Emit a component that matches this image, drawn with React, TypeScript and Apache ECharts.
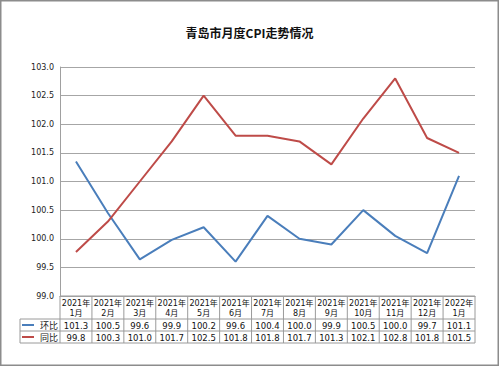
import React, { useEffect, useRef } from "react";
import * as echarts from "echarts";

const months = ["2021年\n1月", "2021年\n2月", "2021年\n3月", "2021年\n4月", "2021年\n5月", "2021年\n6月", "2021年\n7月", "2021年\n8月", "2021年\n9月", "2021年\n10月", "2021年\n11月", "2021年\n12月", "2022年\n1月"];
const seriesNames = ["环比", "同比"];
// values as plotted
const momValues = [101.35, 100.45, 99.64, 99.98, 100.2, 99.6, 100.4, 100.0, 99.9, 100.5, 100.05, 99.75, 101.1];
const yoyValues = [99.77, 100.3, 101.0, 101.7, 102.5, 101.8, 101.8, 101.7, 101.3, 102.1, 102.8, 101.76, 101.5];
// values as printed in the data table
const momTable = ["101.3", "100.5", "99.6", "99.9", "100.2", "99.6", "100.4", "100.0", "99.9", "100.5", "100.0", "99.7", "101.1"];
const yoyTable = ["99.8", "100.3", "101.0", "101.7", "102.5", "101.8", "101.8", "101.7", "101.3", "102.1", "102.8", "101.8", "101.5"];
const colors = ["#4a7ebb", "#be4b48"];

const FONT = "'DejaVu Sans', 'Noto Sans CJK SC', sans-serif";

export default function App() {
  const ref = useRef<HTMLDivElement>(null);
  useEffect(() => {
    if (!ref.current) return;
    const chart = echarts.init(ref.current, null, { renderer: "svg" });
    const gridLeft = 60, gridRight = 24, gridTop = 67, gridBottom = 70;
    chart.setOption({
      animation: false,
      backgroundColor: "#ffffff",
      title: {
        text: "青岛市月度CPI走势情况",
        left: "center",
        top: 21,
        textStyle: { fontSize: 12, fontWeight: "bold", color: "#111", fontFamily: "'Noto Sans CJK SC', sans-serif" },
      },
      grid: { left: gridLeft, right: gridRight, top: gridTop, bottom: gridBottom },
      xAxis: {
        type: "category",
        data: months,
        boundaryGap: true,
        axisLine: { show: true, lineStyle: { color: "#a0a0a0", width: 1 } },
        axisTick: { show: false },
        axisLabel: { show: false },
      },
      yAxis: {
        type: "value",
        min: 99,
        max: 103,
        interval: 0.5,
        axisLine: { show: true, lineStyle: { color: "#a0a0a0", width: 1 } },
        axisTick: { show: false },
        axisLabel: { formatter: (v: number) => v.toFixed(1), fontSize: 8, color: "#222", fontFamily: FONT, margin: 6 },
        splitLine: { lineStyle: { color: "#a6a6a6", width: 1 } },
      },
      series: [
        { name: seriesNames[0], type: "line", data: momValues, symbol: "none", lineStyle: { color: colors[0], width: 2 }, itemStyle: { color: colors[0] } },
        { name: seriesNames[1], type: "line", data: yoyValues, symbol: "none", lineStyle: { color: colors[1], width: 2 }, itemStyle: { color: colors[1] } },
      ],
    });

    const centers = months.map((_, i) => chart.convertToPixel({ xAxisIndex: 0 }, i) as number);
    const colW = centers.length > 1 ? centers[1] - centers[0] : 32;
    const tLeft = centers[0] - colW / 2;
    const tRight = centers[centers.length - 1] + colW / 2;
    const yTop = 366 - gridBottom;
    const yHead = yTop + 23;
    const yRow1 = yHead + 12;
    const yRow2 = yRow1 + 12;
    const legLeft = 20;
    const lineColor = "#9a9a9a";
    const els: any[] = [];
    const hline = (x1: number, x2: number, y: number) =>
      els.push({ type: "line", shape: { x1, y1: y, x2, y2: y }, style: { stroke: lineColor, lineWidth: 1 }, silent: true });
    const vline = (x: number, y1: number, y2: number) =>
      els.push({ type: "line", shape: { x1: x, y1, x2: x, y2 }, style: { stroke: lineColor, lineWidth: 1 }, silent: true });
    hline(tLeft, tRight, yTop);
    hline(legLeft, tRight, yHead);
    hline(legLeft, tRight, yRow1);
    hline(legLeft, tRight, yRow2);
    vline(legLeft, yHead, yRow2);
    for (let i = 0; i <= months.length; i++) vline(tLeft + i * colW, yTop, yRow2);
    months.forEach((m, i) => {
      const cx = centers[i];
      els.push({ type: "text", x: cx, y: (yTop + yHead) / 2 + 0.5, style: { text: m, fontSize: 8, lineHeight: 10, fill: "#111", align: "center", verticalAlign: "middle", fontFamily: FONT }, silent: true });
      els.push({ type: "text", x: cx, y: (yHead + yRow1) / 2 + 0.5, style: { text: momTable[i], fontSize: 8.5, fill: "#111", align: "center", verticalAlign: "middle", fontFamily: FONT }, silent: true });
      els.push({ type: "text", x: cx, y: (yRow1 + yRow2) / 2 + 0.5, style: { text: yoyTable[i], fontSize: 8.5, fill: "#111", align: "center", verticalAlign: "middle", fontFamily: FONT }, silent: true });
    });
    [yHead, yRow1].forEach((y0, k) => {
      const cy = y0 + 6;
      els.push({ type: "line", shape: { x1: legLeft + 2, y1: cy, x2: legLeft + 14, y2: cy }, style: { stroke: colors[k], lineWidth: 2 }, silent: true });
      els.push({ type: "text", x: tLeft - 2, y: cy + 0.5, style: { text: seriesNames[k], fontSize: 9, fill: "#222", align: "right", verticalAlign: "middle", fontFamily: "'Noto Sans CJK SC', sans-serif" }, silent: true });
    });
    els.push({ type: "rect", shape: { x: 0.75, y: 0.75, width: 497.5, height: 364.5 }, style: { fill: "none", stroke: "#8c8c8c", lineWidth: 1.5 }, silent: true });
    chart.setOption({ graphic: { elements: els } });
    return () => chart.dispose();
  }, []);
  return <div ref={ref} style={{ position: "fixed", left: 0, top: 0, width: 499, height: 366 }} />;
}
